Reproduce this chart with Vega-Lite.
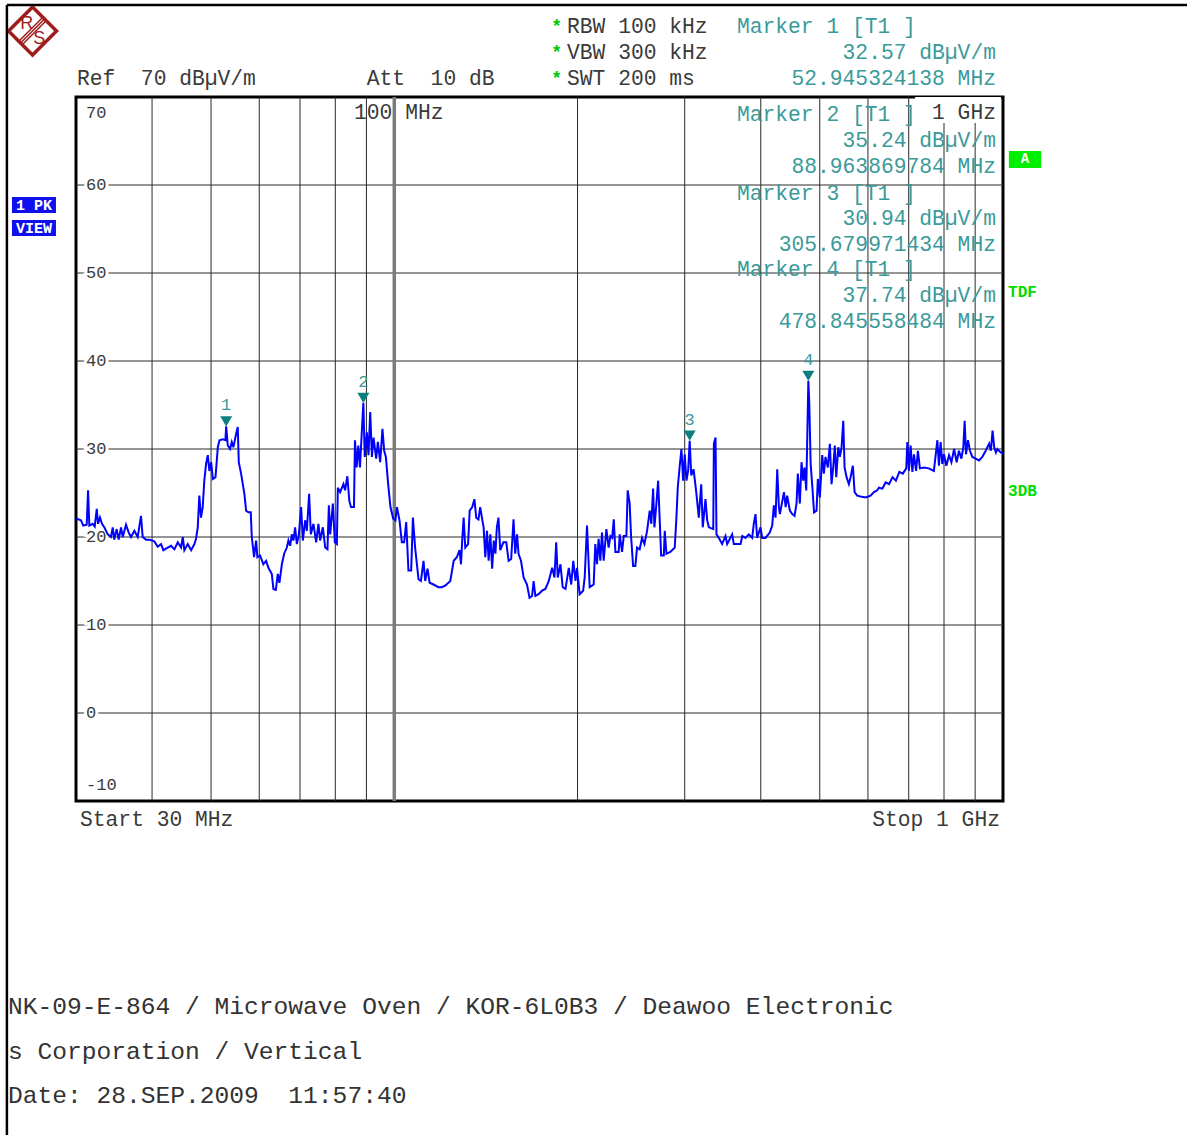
{
  "$schema": "https://vega.github.io/schema/vega-lite/v6.json",
  "width": 927,
  "height": 704,
  "autosize": {"type": "none"},
  "padding": {"left": 76, "top": 97, "right": 184, "bottom": 334},
  "background": "white",
  "config": {"view": {"stroke": "#000000", "strokeWidth": 3}},
  "datasets": {
    "xgrid": [{"f":40},{"f":50},{"f":60},{"f":70},{"f":80},{"f":90},{"f":200},{"f":300},{"f":400},{"f":500},{"f":600},{"f":700},{"f":800},{"f":900}],
    "ygrid": [{"db":0},{"db":10},{"db":20},{"db":30},{"db":40},{"db":50},{"db":60}],
    "trace": [
      {"f":30.00,"db":22.1},{"f":30.57,"db":21.9},{"f":30.83,"db":21.3},{"f":31.24,"db":21.4},{"f":31.40,"db":25.3},{"f":31.55,"db":21.3},{"f":31.95,"db":21.5},{"f":32.20,"db":21.2},{"f":32.45,"db":23.2},{"f":32.61,"db":21.5},
      {"f":32.85,"db":22.2},{"f":33.10,"db":21.5},{"f":33.39,"db":21.1},{"f":33.83,"db":20.3},{"f":34.25,"db":20.0},{"f":34.47,"db":21.1},{"f":34.67,"db":19.7},{"f":34.99,"db":20.9},{"f":35.26,"db":19.7},{"f":35.57,"db":21.1},
      {"f":35.80,"db":20.0},{"f":36.25,"db":21.4},{"f":36.62,"db":20.5},{"f":36.94,"db":20.0},{"f":37.41,"db":20.7},{"f":37.89,"db":20.0},{"f":38.36,"db":22.4},{"f":38.61,"db":20.0},{"f":39.10,"db":19.7},{"f":39.59,"db":19.7},
      {"f":40.35,"db":19.5},{"f":40.87,"db":18.9},{"f":41.38,"db":19.2},{"f":41.75,"db":18.5},{"f":42.44,"db":18.8},{"f":42.98,"db":19.0},{"f":43.53,"db":18.6},{"f":44.08,"db":19.4},{"f":44.64,"db":18.8},{"f":44.93,"db":20.0},
      {"f":45.20,"db":18.5},{"f":45.78,"db":19.2},{"f":46.37,"db":18.5},{"f":46.95,"db":19.2},{"f":47.24,"db":19.8},{"f":47.55,"db":21.1},{"f":47.83,"db":24.7},{"f":48.14,"db":22.2},{"f":48.45,"db":23.4},{"f":48.74,"db":26.4},
      {"f":49.07,"db":28.3},{"f":49.39,"db":29.3},{"f":49.69,"db":27.5},{"f":50.02,"db":28.5},{"f":50.35,"db":26.6},{"f":50.85,"db":26.8},{"f":51.30,"db":30.2},{"f":51.62,"db":31.0},{"f":52.28,"db":31.1},{"f":52.79,"db":31.0},
      {"f":52.945,"db":32.57},{"f":53.27,"db":30.4},{"f":53.73,"db":30.0},{"f":54.08,"db":30.8},{"f":54.41,"db":30.2},{"f":54.97,"db":31.7},{"f":55.32,"db":32.5},{"f":55.53,"db":28.5},{"f":56.02,"db":27.2},{"f":56.72,"db":24.9},
      {"f":57.09,"db":23.0},{"f":57.59,"db":22.8},{"f":58.11,"db":22.8},{"f":58.33,"db":20.0},{"f":58.84,"db":17.7},{"f":59.29,"db":19.6},{"f":59.58,"db":17.7},{"f":60.19,"db":17.9},{"f":60.95,"db":16.9},{"f":61.58,"db":17.3},
      {"f":62.12,"db":16.5},{"f":62.92,"db":15.8},{"f":63.30,"db":14.1},{"f":63.88,"db":14.0},{"f":64.37,"db":15.8},{"f":64.76,"db":14.8},{"f":65.36,"db":16.9},{"f":65.93,"db":18.1},{"f":66.60,"db":18.8},{"f":67.00,"db":19.6},
      {"f":67.44,"db":19.0},{"f":67.87,"db":20.3},{"f":68.29,"db":19.6},{"f":68.72,"db":21.1},{"f":69.17,"db":19.2},{"f":69.70,"db":20.3},{"f":70.30,"db":23.4},{"f":70.76,"db":19.6},{"f":71.38,"db":21.9},{"f":71.84,"db":20.7},
      {"f":72.46,"db":24.9},{"f":72.93,"db":20.3},{"f":73.66,"db":21.5},{"f":74.41,"db":19.4},{"f":75.06,"db":21.5},{"f":75.54,"db":19.6},{"f":76.32,"db":21.1},{"f":77.00,"db":18.8},{"f":77.67,"db":18.6},{"f":78.08,"db":23.6},
      {"f":78.47,"db":20.3},{"f":79.27,"db":23.8},{"f":79.87,"db":19.4},{"f":80.47,"db":19.2},{"f":80.77,"db":25.6},{"f":81.48,"db":25.1},{"f":82.50,"db":26.0},{"f":83.02,"db":25.3},{"f":83.73,"db":26.9},{"f":84.36,"db":24.1},
      {"f":84.90,"db":23.4},{"f":85.86,"db":23.4},{"f":86.18,"db":31.0},{"f":86.74,"db":27.9},{"f":87.27,"db":30.4},{"f":87.83,"db":27.9},{"f":88.40,"db":31.7},{"f":88.964,"db":35.24},{"f":89.43,"db":29.1},{"f":90.15,"db":31.9},
      {"f":90.70,"db":29.3},{"f":91.30,"db":34.2},{"f":91.89,"db":29.1},{"f":92.45,"db":31.3},{"f":93.38,"db":28.9},{"f":93.98,"db":30.8},{"f":94.80,"db":28.5},{"f":95.62,"db":32.3},{"f":96.25,"db":29.8},{"f":96.87,"db":29.1},
      {"f":97.71,"db":26.0},{"f":98.56,"db":23.4},{"f":99.57,"db":22.1},{"f":100.44,"db":21.9},{"f":101.0,"db":23.4},{"f":102.0,"db":21.9},{"f":102.9,"db":19.4},{"f":103.8,"db":19.4},{"f":104.61,"db":21.7},{"f":105.5,"db":16.2},
      {"f":106.6,"db":16.2},{"f":107.3,"db":22.2},{"f":108.2,"db":18.8},{"f":109.6,"db":15.2},{"f":110.6,"db":15.0},{"f":111.7,"db":17.3},{"f":112.4,"db":15.0},{"f":113.4,"db":16.4},{"f":114.3,"db":14.8},{"f":116.0,"db":14.6},
      {"f":118.2,"db":14.3},{"f":119.7,"db":14.3},{"f":121.4,"db":14.5},{"f":123.6,"db":15.0},{"f":125.2,"db":17.3},{"f":126.7,"db":17.7},{"f":128.0,"db":18.5},{"f":128.7,"db":16.9},{"f":129.3,"db":19.6},{"f":130.0,"db":22.2},
      {"f":130.8,"db":18.8},{"f":132.2,"db":19.2},{"f":133.0,"db":23.0},{"f":134.3,"db":23.4},{"f":135.4,"db":24.3},{"f":136.35,"db":22.2},{"f":137.5,"db":22.0},{"f":138.4,"db":23.4},{"f":139.3,"db":22.2},{"f":140.2,"db":21.1},
      {"f":141.1,"db":17.7},{"f":142.0,"db":20.7},{"f":142.9,"db":17.3},{"f":143.8,"db":20.3},{"f":144.8,"db":16.4},{"f":145.7,"db":19.6},{"f":146.6,"db":18.1},{"f":147.4,"db":21.1},{"f":148.3,"db":22.2},{"f":149.3,"db":18.5},
      {"f":151.1,"db":19.4},{"f":152.75,"db":19.4},{"f":154.1,"db":17.3},{"f":155.6,"db":17.5},{"f":157.0,"db":22.0},{"f":158.0,"db":18.1},{"f":159.1,"db":20.3},{"f":160.0,"db":18.1},{"f":161.5,"db":17.3},{"f":163.1,"db":15.4},
      {"f":165.2,"db":14.6},{"f":166.8,"db":13.1},{"f":168.4,"db":13.3},{"f":169.4,"db":15.0},{"f":170.5,"db":13.3},{"f":172.6,"db":13.5},{"f":174.9,"db":13.9},{"f":177.1,"db":14.1},{"f":179.4,"db":15.0},{"f":181.7,"db":16.5},
      {"f":183.3,"db":15.4},{"f":184.5,"db":19.4},{"f":185.6,"db":15.4},{"f":187.5,"db":16.9},{"f":189.1,"db":14.3},{"f":191.1,"db":14.1},{"f":193.5,"db":16.5},{"f":195.3,"db":14.6},{"f":196.8,"db":17.3},{"f":198.5,"db":15.0},
      {"f":199.6,"db":16.5},{"f":201.6,"db":13.5},{"f":204.3,"db":13.9},{"f":205.5,"db":15.4},{"f":207.3,"db":21.3},{"f":209.4,"db":14.3},{"f":212.6,"db":14.6},{"f":213.9,"db":19.2},{"f":215.3,"db":16.9},{"f":216.6,"db":19.8},
      {"f":218.0,"db":17.3},{"f":219.4,"db":20.5},{"f":220.8,"db":17.3},{"f":223.06,"db":20.9},{"f":225.0,"db":18.8},{"f":226.5,"db":20.1},{"f":228.0,"db":19.9},{"f":229.4,"db":22.0},{"f":230.8,"db":18.3},{"f":233.7,"db":18.3},
      {"f":234.6,"db":20.3},{"f":236.7,"db":18.3},{"f":238.2,"db":20.1},{"f":240.6,"db":20.1},{"f":241.8,"db":25.3},{"f":243.6,"db":23.8},{"f":244.9,"db":20.1},{"f":246.8,"db":16.7},{"f":248.9,"db":16.7},{"f":250.5,"db":18.8},
      {"f":253.0,"db":18.6},{"f":255.3,"db":19.9},{"f":257.6,"db":19.2},{"f":260.2,"db":20.7},{"f":262.8,"db":23.0},{"f":264.4,"db":21.5},{"f":266.2,"db":25.5},{"f":267.5,"db":21.1},{"f":269.54,"db":23.8},{"f":271.3,"db":26.4},
      {"f":272.9,"db":22.0},{"f":274.4,"db":17.9},{"f":277.2,"db":17.9},{"f":278.2,"db":20.7},{"f":279.94,"db":18.1},{"f":284.2,"db":18.3},{"f":288.9,"db":18.8},{"f":290.74,"db":22.2},{"f":292.2,"db":25.6},{"f":294.4,"db":28.1},
      {"f":296.3,"db":30.0},{"f":298.2,"db":26.4},{"f":300.0,"db":29.4},{"f":301.96,"db":26.4},{"f":303.9,"db":27.5},{"f":305.68,"db":30.94},{"f":307.5,"db":27.0},{"f":310.2,"db":27.7},{"f":313.6,"db":24.9},{"f":316.4,"db":22.2},
      {"f":319.3,"db":26.0},{"f":321.2,"db":21.1},{"f":324.5,"db":24.3},{"f":326.6,"db":21.9},{"f":328.7,"db":21.1},{"f":334.2,"db":20.9},{"f":335.0,"db":30.6},{"f":337.1,"db":31.3},{"f":338.3,"db":20.3},{"f":341.2,"db":19.9},
      {"f":345.6,"db":19.2},{"f":350.0,"db":20.1},{"f":352.3,"db":19.2},{"f":359.0,"db":20.3},{"f":361.2,"db":19.2},{"f":370.6,"db":19.2},{"f":373.0,"db":20.1},{"f":377.5,"db":19.9},{"f":382.3,"db":20.3},{"f":387.2,"db":19.9},
      {"f":389.6,"db":21.5},{"f":392.1,"db":22.6},{"f":394.6,"db":19.9},{"f":399.6,"db":21.1},{"f":402.2,"db":19.9},{"f":407.2,"db":19.9},{"f":413.9,"db":20.5},{"f":417.7,"db":21.3},{"f":420.3,"db":23.6},{"f":423.0,"db":22.2},
      {"f":425.7,"db":27.7},{"f":428.4,"db":23.4},{"f":430.0,"db":22.6},{"f":434.0,"db":24.1},{"f":436.7,"db":25.1},{"f":439.5,"db":23.4},{"f":442.0,"db":24.7},{"f":446.5,"db":23.0},{"f":450.6,"db":22.6},{"f":454.5,"db":22.4},
      {"f":457.93,"db":23.8},{"f":460.2,"db":27.2},{"f":463.7,"db":23.8},{"f":466.7,"db":28.5},{"f":469.7,"db":26.4},{"f":472.1,"db":27.9},{"f":475.1,"db":25.3},{"f":478.85,"db":37.74},{"f":480.6,"db":35.1},{"f":483.1,"db":28.3},
      {"f":486.3,"db":25.6},{"f":489.3,"db":22.8},{"f":493.95,"db":23.0},{"f":496.4,"db":26.6},{"f":500.2,"db":24.5},{"f":504.7,"db":29.3},{"f":507.8,"db":27.2},{"f":511.0,"db":29.1},{"f":515.5,"db":27.9},{"f":519.5,"db":30.6},
      {"f":522.8,"db":26.0},{"f":526.1,"db":27.9},{"f":529.3,"db":30.4},{"f":532.2,"db":26.8},{"f":536.3,"db":30.2},{"f":539.5,"db":29.1},{"f":543.0,"db":30.2},{"f":546.5,"db":33.2},{"f":549.2,"db":27.9},{"f":553.36,"db":26.8},
      {"f":558.2,"db":26.0},{"f":561.8,"db":26.8},{"f":566.7,"db":28.1},{"f":570.4,"db":25.1},{"f":576.2,"db":24.7},{"f":583.5,"db":24.6},{"f":594.6,"db":24.5},{"f":606.1,"db":24.7},{"f":613.7,"db":25.1},{"f":621.6,"db":25.3},
      {"f":625.4,"db":25.6},{"f":633.6,"db":25.5},{"f":641.6,"db":26.2},{"f":649.8,"db":26.0},{"f":658.4,"db":26.8},{"f":666.9,"db":26.4},{"f":675.6,"db":27.4},{"f":684.5,"db":27.2},{"f":693.6,"db":27.8},{"f":696.3,"db":30.8},
      {"f":700.6,"db":27.5},{"f":705.1,"db":30.4},{"f":709.7,"db":27.4},{"f":714.1,"db":29.4},{"f":719.8,"db":27.5},{"f":724.8,"db":29.8},{"f":730.3,"db":27.8},{"f":741.4,"db":27.9},{"f":755.4,"db":27.8},{"f":769.9,"db":27.5},
      {"f":780.1,"db":31.0},{"f":784.8,"db":28.1},{"f":789.8,"db":30.8},{"f":794.8,"db":28.3},{"f":799.7,"db":29.4},{"f":807.1,"db":28.1},{"f":815.3,"db":29.3},{"f":822.8,"db":28.5},{"f":831.1,"db":30.0},{"f":839.19,"db":28.5},
      {"f":846.5,"db":29.8},{"f":854.3,"db":28.9},{"f":860.7,"db":30.2},{"f":865.0,"db":33.2},{"f":869.3,"db":29.4},{"f":875.9,"db":31.0},{"f":882.5,"db":29.8},{"f":890.5,"db":29.1},{"f":901.8,"db":28.9},{"f":913.0,"db":28.7},
      {"f":924.8,"db":29.1},{"f":936.6,"db":29.8},{"f":948.8,"db":30.6},{"f":955.2,"db":29.8},{"f":961.3,"db":32.1},{"f":967.3,"db":30.2},{"f":973.8,"db":29.6},{"f":979.0,"db":30.0},{"f":991.4,"db":29.6},{"f":1000,"db":29.5}
    ],
    "markers": [
      {"f":52.945,"db":32.57,"n":"1"},{"f":88.964,"db":35.24,"n":"2"},{"f":305.68,"db":30.94,"n":"3"},{"f":478.85,"db":37.74,"n":"4"}
    ],
    "ylabels": [
      {"db":60,"t":"60"},{"db":50,"t":"50"},{"db":40,"t":"40"},{"db":30,"t":"30"},{"db":20,"t":"20"},{"db":10,"t":"10"},{"db":0,"t":"0"}
    ],
    "labelBoxes": [
      {"f":843.6,"db":68.52}
    ],
    "grayLeft": [
      {"f":192.2,"db":78.0,"t":"RBW 100 kHz"},
      {"f":192.2,"db":75.0,"t":"VBW 300 kHz"},
      {"f":192.2,"db":72.1,"t":"SWT 200 ms"},
      {"f":30.11,"db":72.1,"t":"Ref\u00a0 70 dBµV/m"},
      {"f":90.09,"db":72.1,"t":"Att\u00a0 10 dB"},
      {"f":85.87,"db":68.2,"t":"100 MHz"},
      {"f":30.46,"db":-12.15,"t":"Start 30 MHz"}
    ],
    "grayRight": [
      {"f":973.7,"db":68.2,"t":"1 GHz"},
      {"f":988.6,"db":-12.15,"t":"Stop 1 GHz"}
    ],
    "tealLeft": [
      {"f":365.5,"db":78.0,"t":"Marker 1 [T1 ]"},
      {"f":365.5,"db":67.9,"t":"Marker 2 [T1 ]"},
      {"f":365.5,"db":59.0,"t":"Marker 3 [T1 ]"},
      {"f":365.5,"db":50.35,"t":"Marker 4 [T1 ]"}
    ],
    "tealRight": [
      {"f":973.7,"db":75.0,"t":"32.57 dBµV/m"},
      {"f":973.7,"db":72.1,"t":"52.945324138 MHz"},
      {"f":973.7,"db":64.95,"t":"35.24 dBµV/m"},
      {"f":973.7,"db":62.05,"t":"88.963869784 MHz"},
      {"f":973.7,"db":56.1,"t":"30.94 dBµV/m"},
      {"f":973.7,"db":53.2,"t":"305.679971434 MHz"},
      {"f":973.7,"db":47.35,"t":"37.74 dBµV/m"},
      {"f":973.7,"db":44.4,"t":"478.845558484 MHz"}
    ],
    "asterisks": [
      {"f":184.9,"db":78.0,"t":"*"},{"f":184.9,"db":75.0,"t":"*"},{"f":184.9,"db":72.1,"t":"*"}
    ],
    "greenTags": [
      {"f":1019.2,"db":47.84,"t":"TDF"},{"f":1019.2,"db":25.23,"t":"3DB"}
    ],
    "footer": [
      {"f":23.19,"db":-33.45,"t":"NK-09-E-864 / Microwave Oven / KOR-6L0B3 / Deawoo Electronic"},
      {"f":23.19,"db":-38.56,"t":"s Corporation / Vertical"},
      {"f":23.19,"db":-43.56,"t":"Date: 28.SEP.2009\u00a0 11:57:40"}
    ],
    "blueBoxes": [
      {"f":25.59,"db":57.73,"t":"1 PK"},{"f":25.59,"db":55.11,"t":"VIEW"}
    ],
    "greenBox": [
      {"f":1086.9,"db":62.9,"t":"A"}
    ],
    "logo": [
      {"f":25.45,"db":77.5}
    ],
    "logoLetters": [
      {"f":24.9,"db":78.25,"t":"R"},{"f":26.1,"db":76.55,"t":"S"}
    ]
  },
  "layer": [
    {
      "data": {"name": "xgrid"},
      "mark": {"type": "rule", "color": "#2a2a2a", "strokeWidth": 1},
      "encoding": {
        "x": {"field": "f", "type": "quantitative", "scale": {"type": "log", "domain": [30, 1000], "nice": false}, "axis": null}
      }
    },
    {
      "data": {"name": "ygrid"},
      "mark": {"type": "rule", "color": "#2a2a2a", "strokeWidth": 1},
      "encoding": {
        "y": {"field": "db", "type": "quantitative", "scale": {"domain": [-10, 70], "nice": false, "zero": false}, "axis": null}
      }
    },
    {
      "data": {"values": [{}]},
      "mark": {"type": "rule", "color": "#7c7c7c", "strokeWidth": 3.5},
      "encoding": {
        "x": {"datum": 100, "type": "quantitative", "scale": {"type": "log", "domain": [30, 1000], "nice": false}, "axis": null}
      }
    },
    {
      "data": {"name": "labelBoxes"},
      "mark": {"type": "point", "shape": "M-3.3,-1L3.3,-1L3.3,1L-3.3,1Z", "filled": true, "size": 676, "color": "white", "opacity": 1, "clip": false},
      "encoding": {
        "x": {"field": "f", "type": "quantitative", "scale": {"type": "log", "domain": [30, 1000], "nice": false}, "axis": null},
        "y": {"field": "db", "type": "quantitative", "scale": {"domain": [-10, 70], "nice": false, "zero": false}, "axis": null}
      }
    },
    {
      "data": {"name": "ylabels"},
      "mark": {"type": "text", "align": "left", "baseline": "middle", "font": "Liberation Mono", "fontSize": 17, "color": "white", "stroke": "white", "strokeWidth": 6, "clip": false},
      "encoding": {
        "x": {"datum": 31.16, "type": "quantitative", "scale": {"type": "log", "domain": [30, 1000], "nice": false}, "axis": null},
        "y": {"field": "db", "type": "quantitative", "scale": {"domain": [-10, 70], "nice": false, "zero": false}, "axis": null},
        "text": {"field": "t"}
      }
    },
    {
      "data": {"name": "ylabels"},
      "mark": {"type": "text", "align": "left", "baseline": "middle", "font": "Liberation Mono", "fontSize": 17, "color": "#3a3a3a", "clip": false},
      "encoding": {
        "x": {"datum": 31.16, "type": "quantitative", "scale": {"type": "log", "domain": [30, 1000], "nice": false}, "axis": null},
        "y": {"field": "db", "type": "quantitative", "scale": {"domain": [-10, 70], "nice": false, "zero": false}, "axis": null},
        "text": {"field": "t"}
      }
    },
    {
      "data": {"values": [{"db": 70, "t": "70"}]},
      "mark": {"type": "text", "align": "left", "baseline": "middle", "font": "Liberation Mono", "fontSize": 17, "color": "#3a3a3a", "dy": 15.5, "clip": false},
      "encoding": {
        "x": {"datum": 31.16, "type": "quantitative", "scale": {"type": "log", "domain": [30, 1000], "nice": false}, "axis": null},
        "y": {"field": "db", "type": "quantitative", "scale": {"domain": [-10, 70], "nice": false, "zero": false}, "axis": null},
        "text": {"field": "t"}
      }
    },
    {
      "data": {"values": [{"db": -10, "t": "-10"}]},
      "mark": {"type": "text", "align": "left", "baseline": "middle", "font": "Liberation Mono", "fontSize": 17, "color": "#3a3a3a", "dy": -16, "clip": false},
      "encoding": {
        "x": {"datum": 31.16, "type": "quantitative", "scale": {"type": "log", "domain": [30, 1000], "nice": false}, "axis": null},
        "y": {"field": "db", "type": "quantitative", "scale": {"domain": [-10, 70], "nice": false, "zero": false}, "axis": null},
        "text": {"field": "t"}
      }
    },
    {
      "data": {"name": "trace"},
      "mark": {"type": "line", "color": "#0000ff", "strokeWidth": 2, "clip": true},
      "encoding": {
        "x": {"field": "f", "type": "quantitative", "scale": {"type": "log", "domain": [30, 1000], "nice": false}, "axis": null},
        "y": {"field": "db", "type": "quantitative", "scale": {"domain": [-10, 70], "nice": false, "zero": false}, "axis": null}
      }
    },
    {
      "data": {"name": "markers"},
      "mark": {"type": "point", "shape": "M-1,-1.7L1,-1.7L0,0Z", "filled": true, "size": 144, "color": "#0b7f7f", "opacity": 1, "clip": false},
      "encoding": {
        "x": {"field": "f", "type": "quantitative", "scale": {"type": "log", "domain": [30, 1000], "nice": false}, "axis": null},
        "y": {"field": "db", "type": "quantitative", "scale": {"domain": [-10, 70], "nice": false, "zero": false}, "axis": null}
      }
    },
    {
      "data": {"name": "markers"},
      "mark": {"type": "text", "align": "center", "baseline": "middle", "font": "Liberation Mono", "fontSize": 17, "color": "#3a9a9a", "dy": -21, "clip": false},
      "encoding": {
        "x": {"field": "f", "type": "quantitative", "scale": {"type": "log", "domain": [30, 1000], "nice": false}, "axis": null},
        "y": {"field": "db", "type": "quantitative", "scale": {"domain": [-10, 70], "nice": false, "zero": false}, "axis": null},
        "text": {"field": "n"}
      }
    },
    {
      "data": {"name": "grayLeft"},
      "mark": {"type": "text", "align": "left", "baseline": "middle", "font": "Liberation Mono", "fontSize": 21.3, "color": "#3a3a3a", "clip": false},
      "encoding": {
        "x": {"field": "f", "type": "quantitative", "scale": {"type": "log", "domain": [30, 1000], "nice": false}, "axis": null},
        "y": {"field": "db", "type": "quantitative", "scale": {"domain": [-10, 70], "nice": false, "zero": false}, "axis": null},
        "text": {"field": "t"}
      }
    },
    {
      "data": {"name": "grayRight"},
      "mark": {"type": "text", "align": "right", "baseline": "middle", "font": "Liberation Mono", "fontSize": 21.3, "color": "#3a3a3a", "clip": false},
      "encoding": {
        "x": {"field": "f", "type": "quantitative", "scale": {"type": "log", "domain": [30, 1000], "nice": false}, "axis": null},
        "y": {"field": "db", "type": "quantitative", "scale": {"domain": [-10, 70], "nice": false, "zero": false}, "axis": null},
        "text": {"field": "t"}
      }
    },
    {
      "data": {"name": "tealLeft"},
      "mark": {"type": "text", "align": "left", "baseline": "middle", "font": "Liberation Mono", "fontSize": 21.3, "color": "#3a9a9a", "clip": false},
      "encoding": {
        "x": {"field": "f", "type": "quantitative", "scale": {"type": "log", "domain": [30, 1000], "nice": false}, "axis": null},
        "y": {"field": "db", "type": "quantitative", "scale": {"domain": [-10, 70], "nice": false, "zero": false}, "axis": null},
        "text": {"field": "t"}
      }
    },
    {
      "data": {"name": "tealRight"},
      "mark": {"type": "text", "align": "right", "baseline": "middle", "font": "Liberation Mono", "fontSize": 21.3, "color": "#3a9a9a", "clip": false},
      "encoding": {
        "x": {"field": "f", "type": "quantitative", "scale": {"type": "log", "domain": [30, 1000], "nice": false}, "axis": null},
        "y": {"field": "db", "type": "quantitative", "scale": {"domain": [-10, 70], "nice": false, "zero": false}, "axis": null},
        "text": {"field": "t"}
      }
    },
    {
      "data": {"name": "asterisks"},
      "mark": {"type": "text", "align": "center", "baseline": "middle", "font": "Liberation Mono", "fontSize": 18, "fontWeight": "bold", "color": "#00c800", "clip": false},
      "encoding": {
        "x": {"field": "f", "type": "quantitative", "scale": {"type": "log", "domain": [30, 1000], "nice": false}, "axis": null},
        "y": {"field": "db", "type": "quantitative", "scale": {"domain": [-10, 70], "nice": false, "zero": false}, "axis": null},
        "text": {"field": "t"}
      }
    },
    {
      "data": {"name": "greenTags"},
      "mark": {"type": "text", "align": "left", "baseline": "middle", "font": "Liberation Mono", "fontSize": 16, "fontWeight": "bold", "color": "#00dd00", "clip": false},
      "encoding": {
        "x": {"field": "f", "type": "quantitative", "scale": {"type": "log", "domain": [30, 1000], "nice": false}, "axis": null},
        "y": {"field": "db", "type": "quantitative", "scale": {"domain": [-10, 70], "nice": false, "zero": false}, "axis": null},
        "text": {"field": "t"}
      }
    },
    {
      "data": {"name": "footer"},
      "mark": {"type": "text", "align": "left", "baseline": "middle", "font": "Liberation Mono", "fontSize": 24.6, "color": "#333333", "clip": false},
      "encoding": {
        "x": {"field": "f", "type": "quantitative", "scale": {"type": "log", "domain": [30, 1000], "nice": false}, "axis": null},
        "y": {"field": "db", "type": "quantitative", "scale": {"domain": [-10, 70], "nice": false, "zero": false}, "axis": null},
        "text": {"field": "t"}
      }
    },
    {
      "data": {"name": "blueBoxes"},
      "mark": {"type": "point", "shape": "M-2.75,-1L2.75,-1L2.75,1L-2.75,1Z", "filled": true, "size": 256, "color": "#1010ee", "opacity": 1, "clip": false},
      "encoding": {
        "x": {"field": "f", "type": "quantitative", "scale": {"type": "log", "domain": [30, 1000], "nice": false}, "axis": null},
        "y": {"field": "db", "type": "quantitative", "scale": {"domain": [-10, 70], "nice": false, "zero": false}, "axis": null}
      }
    },
    {
      "data": {"name": "blueBoxes"},
      "mark": {"type": "text", "align": "center", "baseline": "middle", "font": "Liberation Mono", "fontSize": 15, "fontWeight": "bold", "color": "white", "clip": false},
      "encoding": {
        "x": {"field": "f", "type": "quantitative", "scale": {"type": "log", "domain": [30, 1000], "nice": false}, "axis": null},
        "y": {"field": "db", "type": "quantitative", "scale": {"domain": [-10, 70], "nice": false, "zero": false}, "axis": null},
        "text": {"field": "t"}
      }
    },
    {
      "data": {"name": "greenBox"},
      "mark": {"type": "point", "shape": "M-1.9,-1L1.9,-1L1.9,1L-1.9,1Z", "filled": true, "size": 289, "color": "#00ee00", "opacity": 1, "clip": false},
      "encoding": {
        "x": {"field": "f", "type": "quantitative", "scale": {"type": "log", "domain": [30, 1000], "nice": false}, "axis": null},
        "y": {"field": "db", "type": "quantitative", "scale": {"domain": [-10, 70], "nice": false, "zero": false}, "axis": null}
      }
    },
    {
      "data": {"name": "greenBox"},
      "mark": {"type": "text", "align": "center", "baseline": "middle", "font": "Liberation Mono", "fontSize": 14, "fontWeight": "bold", "color": "white", "clip": false},
      "encoding": {
        "x": {"field": "f", "type": "quantitative", "scale": {"type": "log", "domain": [30, 1000], "nice": false}, "axis": null},
        "y": {"field": "db", "type": "quantitative", "scale": {"domain": [-10, 70], "nice": false, "zero": false}, "axis": null},
        "text": {"field": "t"}
      }
    },
    {
      "data": {"name": "logo"},
      "mark": {"type": "point", "shape": "M0,-1L1,0L0,1L-1,0Z", "filled": false, "size": 2304, "color": "#a01c1c", "strokeWidth": 3.5, "opacity": 1, "clip": false},
      "encoding": {
        "x": {"field": "f", "type": "quantitative", "scale": {"type": "log", "domain": [30, 1000], "nice": false}, "axis": null},
        "y": {"field": "db", "type": "quantitative", "scale": {"domain": [-10, 70], "nice": false, "zero": false}, "axis": null}
      }
    },
    {
      "data": {"name": "logo"},
      "mark": {"type": "point", "shape": "M0.5,-0.5L-0.5,0.5M0.57,-0.43L-0.43,0.57M0.43,-0.57L-0.57,0.43", "filled": false, "size": 2304, "color": "#a01c1c", "strokeWidth": 1.5, "opacity": 1, "clip": false},
      "encoding": {
        "x": {"field": "f", "type": "quantitative", "scale": {"type": "log", "domain": [30, 1000], "nice": false}, "axis": null},
        "y": {"field": "db", "type": "quantitative", "scale": {"domain": [-10, 70], "nice": false, "zero": false}, "axis": null}
      }
    },
    {
      "data": {"name": "logoLetters"},
      "mark": {"type": "text", "align": "center", "baseline": "middle", "font": "Liberation Sans", "fontSize": 18, "color": "#a01c1c", "clip": false},
      "encoding": {
        "x": {"field": "f", "type": "quantitative", "scale": {"type": "log", "domain": [30, 1000], "nice": false}, "axis": null},
        "y": {"field": "db", "type": "quantitative", "scale": {"domain": [-10, 70], "nice": false, "zero": false}, "axis": null},
        "text": {"field": "t"}
      }
    },
    {
      "data": {"values": [{}]},
      "mark": {"type": "rule", "color": "#000000", "strokeWidth": 2.5, "clip": false},
      "encoding": {
        "x": {"datum": 23.1, "type": "quantitative", "scale": {"type": "log", "domain": [30, 1000], "nice": false}, "axis": null},
        "y": {"datum": 80.45, "type": "quantitative", "scale": {"domain": [-10, 70], "nice": false, "zero": false}, "axis": null},
        "y2": {"datum": -48}
      }
    },
    {
      "data": {"values": [{}]},
      "mark": {"type": "rule", "color": "#000000", "strokeWidth": 2.5, "clip": false},
      "encoding": {
        "x": {"datum": 23.1, "type": "quantitative", "scale": {"type": "log", "domain": [30, 1000], "nice": false}, "axis": null},
        "x2": {"datum": 2006},
        "y": {"datum": 80.45, "type": "quantitative", "scale": {"domain": [-10, 70], "nice": false, "zero": false}, "axis": null}
      }
    }
  ]
}
